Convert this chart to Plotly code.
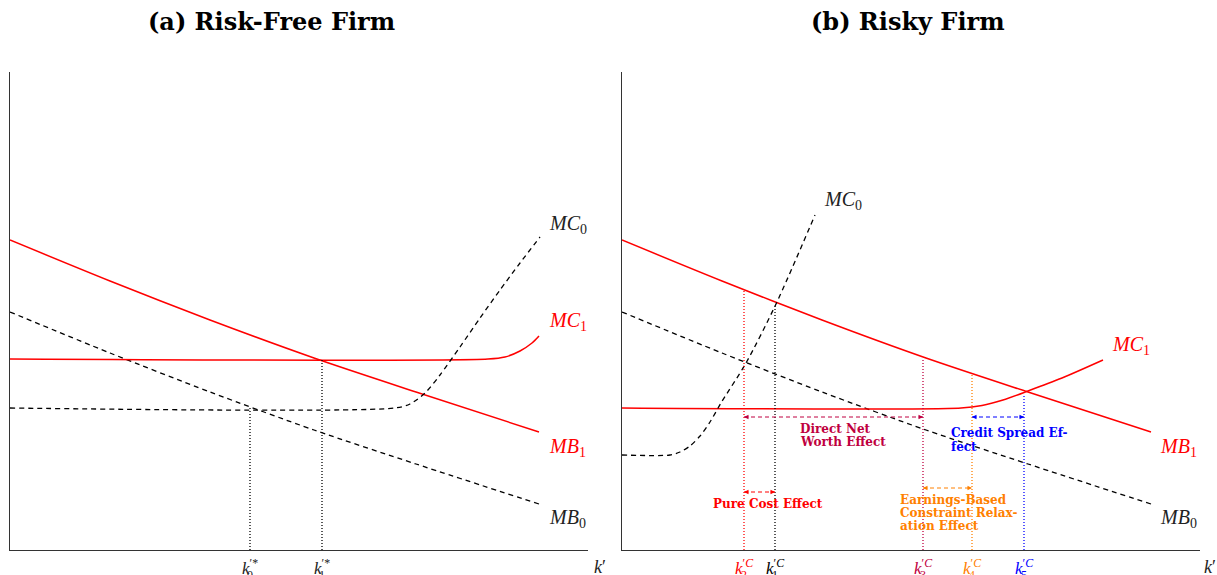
import plotly.graph_objects as go

W, H = 1217, 575
RED, BLACK, PURPLE, ORANGE, BLUE = "#ff0000", "#000000", "#bf0040", "#ff8000", "#0000ff"

# ---- shared benefit curves (x: distance from y-axis, y: height above x-axis) ----
MB_X = [0, 100, 200, 304, 406, 529]
MB1_Y = [310, 269, 230, 192, 158, 118]
MB0_Y = [238, 197, 158, 120, 86, 46]

# ---- panel (a) Risk-Free Firm ----
A_MC1_X = [0, 478, 495, 510, 522, 529]
A_MC1_Y = [191, 191, 193, 199, 207, 214]
A_MC0_X = [0, 385, 400, 415, 430, 450, 470, 490, 510, 530]
A_MC0_Y = [142, 142, 146, 157, 175, 203, 232, 260, 287, 313]
A_K_X = [240, 312]
A_K_TOP = [142, 191]
A_K_SUB = ["0", "1"]

# ---- panel (b) Risky Firm ----
B_MC0_X = [0, 48, 58, 68, 78, 88, 99, 124, 154, 193]
B_MC0_Y = [95, 95, 98, 104, 114, 128, 147, 187, 246, 335]
B_MC1_X = [0, 339, 360, 381, 406, 440, 481]
B_MC1_Y = [142, 142, 144.5, 150, 159, 172, 190]
B_K_X = [122, 153, 301, 350, 402]
B_K_TOP = [259, 246, 191, 176, 155]
B_K_SUB = ["2", "1", "3", "4", "5"]
B_K_COL = [RED, BLACK, PURPLE, ORANGE, BLUE]

# effects: (x0, x1, arrow y, colour, text x, [text lines], [line ys])
EFFECTS = [
    (122, 301, 133, PURPLE, 178, ["Direct Net", "Worth Effect"], [121, 108]),
    (350, 402, 133, BLUE, 329, ["Credit Spread Ef-", "fect"], [117, 103]),
    (122, 153, 58, RED, 91, ["Pure Cost Effect"], [46]),
    (301, 350, 62, ORANGE, 278, ["Earnings-Based", "Constraint Relax-", "ation Effect"], [50, 37, 24]),
]

TITLES = ["(a) Risk-Free Firm", "(b) Risky Firm"]

MATH = "Liberation Serif"
BOLD = "DejaVu Serif"

# geometry of the two panels (pixels)
X0_PX = {"": 10, "2": 622}
Y0_PX = 550
AX_LEN_X, AX_LEN_Y = 578, 478

fig = go.Figure()


def line(xs, ys, color, dash="solid", width=1.5, ax="", spline=True):
    fig.add_trace(go.Scatter(
        x=xs, y=ys, mode="lines", xaxis="x" + ax, yaxis="y" + ax,
        line=dict(color=color, dash=dash, width=width,
                  shape="spline" if spline else "linear", smoothing=0.8),
        hoverinfo="skip", showlegend=False, cliponaxis=False))


DASH = "5px,4px"
DOT = "1px,2px"

# panel a curves
line(MB_X, MB1_Y, RED)
line(MB_X, MB0_Y, BLACK, DASH, 1.3)
line(A_MC1_X, A_MC1_Y, RED)
line(A_MC0_X, A_MC0_Y, BLACK, DASH, 1.3)
for kx, kt in zip(A_K_X, A_K_TOP):
    line([kx, kx], [0, kt], BLACK, DOT, 1.3, spline=False)

# panel b curves
line(MB_X, MB1_Y, RED, ax="2")
line(MB_X, MB0_Y, BLACK, DASH, 1.3, ax="2")
line(B_MC1_X, B_MC1_Y, RED, ax="2")
line(B_MC0_X, B_MC0_Y, BLACK, DASH, 1.3, ax="2")
for kx, kt, kc in zip(B_K_X, B_K_TOP, B_K_COL):
    line([kx, kx], [0, kt], kc, DOT, 1.3, ax="2", spline=False)

ann = []


def text(x, y, s, color, size, family, ax="", xanchor="left", xshift=0, yshift=0):
    # labels outside the axis ranges are placed in paper coordinates (same scale: 1 unit = 1 px)
    px = X0_PX[ax] + x
    py = Y0_PX - y
    ann.append(dict(x=px / W, y=1 - py / H, xref="paper", yref="paper", text=s, showarrow=False,
                    xanchor=xanchor, yanchor="middle", xshift=xshift, yshift=yshift,
                    font=dict(color=color, size=size, family=family)))


for (x0, x1, ay, col, tx, lines, lys) in EFFECTS:
    line([x0, x1], [ay, ay], col, "4px,3px", 1.0, ax="2", spline=False)
    for xe, xs in ((x1, x1 - 6), (x0, x0 + 6)):
        ann.append(dict(x=xe, y=ay, ax=xs, ay=ay, xref="x2", yref="y2", axref="x2", ayref="y2",
                        text="", showarrow=True, arrowhead=2, arrowsize=0.9, arrowwidth=1,
                        arrowcolor=col))
    for ln, ly in zip(lines, lys):
        text(tx, ly, "<b>" + ln + "</b>", col, 12, BOLD, ax="2", xshift=-2)

# curve labels
CURVE_LAB = "#222222"
LS = 20
text(537, 325, "<i>MC</i><sub>0</sub>", CURVE_LAB, LS, MATH)
text(537, 229, "<i>MC</i><sub>1</sub>", RED, LS, MATH)
text(537, 103, "<i>MB</i><sub>1</sub>", RED, LS, MATH)
text(537, 32, "<i>MB</i><sub>0</sub>", CURVE_LAB, LS, MATH)
text(200, 350, "<i>MC</i><sub>0</sub>", CURVE_LAB, LS, MATH, ax="2")
text(488, 205, "<i>MC</i><sub>1</sub>", RED, LS, MATH, ax="2")
text(536, 103, "<i>MB</i><sub>1</sub>", RED, LS, MATH, ax="2")
text(536, 32, "<i>MB</i><sub>0</sub>", CURVE_LAB, LS, MATH, ax="2")

# axis labels k'
text(590, -17, "<i>k</i>′", CURVE_LAB, 18, MATH, xanchor="center")
text(588, -17, "<i>k</i>′", CURVE_LAB, 18, MATH, ax="2", xanchor="center")

# tick-like labels
for kx, sub in zip(A_K_X, A_K_SUB):
    text(kx, -17, "<i>k</i><sup>′*</sup>", CURVE_LAB, 17, MATH, xanchor="center")
    text(kx, -17, sub, CURVE_LAB, 12, MATH, xanchor="left", xshift=-5, yshift=-8)
for kx, sub, kc in zip(B_K_X, B_K_SUB, B_K_COL):
    text(kx, -17, "<i>k</i><sup>′<i>C</i></sup>", kc, 17, MATH, ax="2", xanchor="center")
    text(kx, -17, sub, kc, 12, MATH, ax="2", xanchor="left", xshift=-5, yshift=-8)

# titles
for i, (t, cx) in enumerate(zip(TITLES, [271, 908])):
    ann.append(dict(x=cx / W, y=1 - 22 / H, xref="paper", yref="paper", text="<b>" + t + "</b>",
                    showarrow=False, xanchor="center", yanchor="middle",
                    font=dict(color="#000000", size=24, family=BOLD)))

ydom = [(H - Y0_PX) / H, (H - Y0_PX + AX_LEN_Y) / H]
axis_common = dict(showgrid=False, zeroline=False, showticklabels=False, ticks="",
                   showline=True, linecolor="#333333", linewidth=1, fixedrange=True)
fig.update_layout(
    width=W, height=H, margin=dict(l=0, r=0, t=0, b=0),
    paper_bgcolor="white", plot_bgcolor="white", showlegend=False,
    xaxis=dict(domain=[X0_PX[""] / W, (X0_PX[""] + AX_LEN_X) / W], range=[0, AX_LEN_X],
               anchor="y", **axis_common),
    yaxis=dict(domain=ydom, range=[0, AX_LEN_Y], anchor="x", **axis_common),
    xaxis2=dict(domain=[X0_PX["2"] / W, (X0_PX["2"] + AX_LEN_X) / W], range=[0, AX_LEN_X],
                anchor="y2", **axis_common),
    yaxis2=dict(domain=ydom, range=[0, AX_LEN_Y], anchor="x2", **axis_common),
    annotations=ann,
)

fig.write_html("out.html", config={"displayModeBar": False},
               post_script="document.body.style.margin='0px';document.body.style.overflow='hidden';")
